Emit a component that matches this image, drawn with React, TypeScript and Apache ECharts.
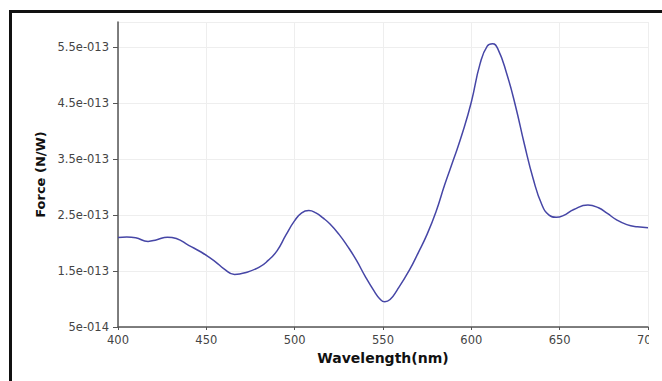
import React, { useEffect, useRef } from "react";
import * as echarts from "echarts";

const wavelengths = [
  400, 405, 410, 417, 422, 428, 433, 440, 447, 455, 460, 466, 472, 480, 485, 490, 495,
  500, 504, 508, 512, 516, 520, 525, 530, 535, 540, 545, 548, 551, 554, 558, 565, 570, 575,
  580, 585, 590, 595, 600, 605, 609, 612, 615, 620, 625, 630, 635, 640, 644, 648, 652, 658,
  666, 672, 677, 682, 688, 694, 700,
];

const force = [
  2.10e-13, 2.11e-13, 2.095e-13, 2.03e-13, 2.06e-13, 2.105e-13, 2.08e-13, 1.96e-13, 1.84e-13, 1.67e-13,
  1.54e-13, 1.44e-13, 1.47e-13, 1.57e-13, 1.69e-13, 1.86e-13, 2.14e-13,
  2.40e-13, 2.54e-13, 2.58e-13, 2.54e-13, 2.45e-13, 2.34e-13, 2.16e-13, 1.94e-13, 1.69e-13, 1.40e-13,
  1.14e-13, 1.01e-13, 0.95e-13, 0.99e-13, 1.16e-13, 1.52e-13, 1.83e-13, 2.16e-13,
  2.56e-13, 3.05e-13, 3.50e-13, 3.97e-13, 4.52e-13, 5.21e-13, 5.52e-13, 5.56e-13, 5.47e-13, 5.03e-13,
  4.45e-13, 3.77e-13, 3.15e-13, 2.68e-13, 2.50e-13, 2.46e-13, 2.49e-13, 2.60e-13,
  2.68e-13, 2.63e-13, 2.53e-13, 2.42e-13, 2.33e-13, 2.29e-13, 2.275e-13,
];

const xAxisName = "Wavelength(nm)";
const yAxisName = "Force (N/W)";

function fmtExp(v: number): string {
  const s = Number(v.toPrecision(3)).toExponential();
  return s.replace(/e([+-])(\d+)$/, (_m, sign, d) => "e" + sign + String(d).padStart(3, "0"));
}

export default function App() {
  const ref = useRef<HTMLDivElement>(null);

  useEffect(() => {
    if (!ref.current) return;
    const chart = echarts.init(ref.current, undefined, { renderer: "svg" });
    const font = "DejaVu Sans";
    chart.setOption({
      animation: false,
      grid: { left: 118, right: 1, top: 22, bottom: 54, containLabel: false, outerBoundsMode: "none" },
      xAxis: {
        type: "value",
        min: 400,
        max: 700,
        interval: 50,
        name: xAxisName,
        nameLocation: "middle",
        nameGap: 17,
        nameTextStyle: { fontFamily: font, fontSize: 14, fontWeight: "bold", color: "#111", verticalAlign: "top" },
        axisLine: { show: true, lineStyle: { color: "#555", width: 1.5 } },
        axisTick: { show: true, length: 3, lineStyle: { color: "#555" } },
        axisLabel: { fontFamily: font, fontSize: 11.5, color: "#444", margin: 7 },
        splitLine: { show: true, lineStyle: { color: "#eeeeee", width: 1 } },
      },
      yAxis: {
        type: "value",
        min: 5e-14,
        max: 5.95e-13,
        interval: 1e-13,
        name: yAxisName,
        nameLocation: "middle",
        nameGap: 68,
        nameTextStyle: { fontFamily: font, fontSize: 13, fontWeight: "bold", color: "#111" },
        axisLine: { show: true, lineStyle: { color: "#555", width: 1.5 } },
        axisTick: { show: true, length: 5, lineStyle: { color: "#555" } },
        axisLabel: { fontFamily: font, fontSize: 11.5, color: "#444", margin: 9, showMaxLabel: false, formatter: (v: number) => fmtExp(v) },
        splitLine: { show: true, lineStyle: { color: "#eeeeee", width: 1 } },
      },
      series: [
        {
          type: "line",
          data: wavelengths.map((w, i) => [w, force[i]]),
          smooth: 0.5,
          showSymbol: false,
          symbol: "none",
          lineStyle: { color: "#4646a6", width: 1.5 },
        },
      ],
    });
    return () => chart.dispose();
  }, []);

  return (
    <div style={{ position: "fixed", left: 0, top: 0, width: 662, height: 381, overflow: "hidden", background: "#fff" }}>
      <div
        style={{
          position: "absolute",
          left: 9,
          top: 10,
          width: 720,
          height: 420,
          borderTop: "3px solid #111",
          borderLeft: "3px solid #111",
        }}
      />
      <div ref={ref} style={{ position: "absolute", left: 0, top: 0, width: 649, height: 381 }} />
    </div>
  );
}
